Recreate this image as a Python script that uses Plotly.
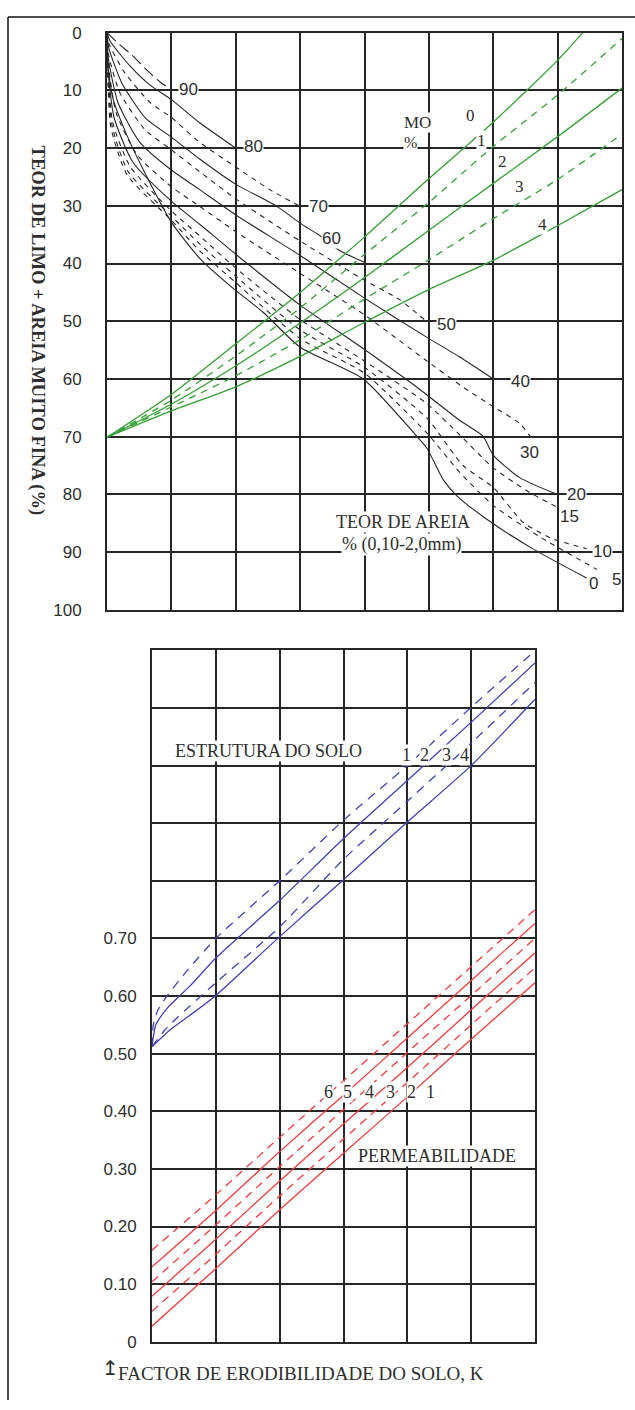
import plotly.graph_objects as go

# ------------------------------------------------------------------
# DATA
# Top nomograph: x in grid units (0-8, unlabelled), y in % (silt + very fine sand)
# ------------------------------------------------------------------
SAND_LABELS = ["90", "80", "70", "60", "50", "40", "30", "20", "15", "10", "5", "0"]

sand90_x = [0, 0.2, 0.39, 0.62, 0.82, 1.0]
sand90_y = [0, 2.1, 3.9, 6.5, 8.5, 9.9]
sand80_x = [0, 0.05, 0.36, 0.67, 1.0, 1.44, 2.0]
sand80_y = [0, 1.5, 5.8, 9.1, 11.6, 15.6, 20.0]
sand70_x = [0, 0.03, 0.28, 0.67, 1.0, 1.44, 1.99, 2.53, 3.0]
sand70_y = [0, 1.9, 7.0, 12.1, 14.7, 19.0, 23.2, 27.2, 30.1]
sand60_x = [0, 0.03, 0.23, 0.59, 1.0, 1.44, 1.99, 2.64, 3.0, 3.31, 3.62, 4.0]
sand60_y = [0, 2.7, 8.7, 14.7, 18.1, 21.9, 26.2, 30.1, 33.0, 35.2, 37.8, 39.8]
sand50_x = [0, 0.02, 0.2, 0.59, 1.0, 1.44, 1.99, 3.0, 4.0, 4.55, 4.97]
sand50_y = [0, 3.6, 10.4, 16.8, 20.3, 24.1, 28.7, 36.1, 42.9, 46.3, 50.1]
sand40_x = [0, 0.02, 0.17, 0.51, 1.0, 1.44, 1.99, 3.0, 4.0, 4.97, 5.48, 6.0]
sand40_y = [0, 4.4, 12.1, 19.0, 23.8, 27.2, 31.5, 38.6, 46.0, 52.8, 56.2, 60.0]
sand30_x = [0, 0.02, 0.14, 0.47, 1.0, 1.44, 1.99, 3.0, 4.0, 4.97, 5.53, 6.0, 6.41, 6.57]
sand30_y = [0, 5.3, 13.8, 21.2, 26.7, 30.1, 34.4, 41.7, 48.9, 56.9, 61.4, 64.8, 67.7, 69.9]
sand20_x = [0, 0.01, 0.11, 0.4, 1.0, 1.44, 1.99, 3.0, 4.0, 4.81, 5.48, 5.84, 6.0, 6.41, 6.99]
sand20_y = [0, 5.8, 14.7, 22.4, 29.2, 33.2, 38.3, 47.2, 54.9, 61.4, 67.2, 69.9, 73.2, 77.1, 80.0]
sand15_x = [0, 0.01, 0.09, 0.36, 1.0, 1.44, 1.99, 3.0, 4.0, 4.97, 5.48, 6.0, 6.57, 6.99]
sand15_y = [0, 6.2, 15.6, 23.2, 30.9, 35.2, 40.7, 49.7, 56.9, 64.3, 69.7, 75.4, 79.7, 82.2]
sand10_x = [0, 0.01, 0.08, 0.33, 1.0, 1.44, 1.99, 3.0, 4.0, 4.97, 5.53, 6.0, 6.46, 6.92, 7.45]
sand10_y = [0, 6.5, 16.2, 24.1, 31.8, 36.6, 42.1, 51.5, 58.0, 66.8, 75.0, 78.8, 84.8, 87.7, 89.4]
sand5_x = [0, 0.01, 0.06, 0.31, 1.0, 1.44, 1.99, 3.0, 4.0, 4.97, 5.48, 6.0, 6.73, 7.61]
sand5_y = [0, 6.7, 16.4, 24.6, 32.5, 37.8, 43.2, 53.0, 59.0, 69.4, 76.2, 81.9, 87.4, 93.0]
sand0_x = [0, 0.01, 0.09, 0.31, 0.62, 1.01, 1.44, 1.96, 2.42, 3.0, 3.98, 4.81, 4.97, 5.22, 5.43, 5.90, 6.61, 7.45]
sand0_y = [0, 5.3, 11.3, 17.8, 25.0, 33.0, 39.1, 44.3, 48.4, 54.5, 60.0, 69.9, 72.0, 77.4, 80.2, 84.3, 89.4, 94.5]

# Organic matter (MO %) curves
OM_LABELS = ["0", "1", "2", "3", "4"]
om0_x = [0, 1.01, 1.99, 3.0, 3.98, 4.98, 5.99, 7.0, 7.39]
om0_y = [70.1, 62.6, 54.0, 45.0, 35.6, 25.5, 15.6, 4.8, 0.0]
om_x = [0, 1.01, 1.99, 3.0, 3.98, 4.98, 5.99, 6.99, 8.0]
om1_y = [70.1, 63.6, 56.1, 47.7, 38.6, 29.6, 19.8, 10.9, 1.0]
om2_y = [70.1, 64.3, 57.8, 50.3, 42.6, 34.4, 26.2, 18.1, 9.6]
om3_y = [70.1, 64.8, 59.5, 53.2, 46.3, 39.5, 32.3, 25.5, 17.6]
om4_y = [70.1, 65.5, 61.4, 56.1, 50.3, 44.6, 39.5, 33.5, 27.2]

TOP_TICKS = [0, 10, 20, 30, 40, 50, 60, 70, 80, 90, 100]
TOP_TICK_TEXT = ["0", "10", "20", "30", "40", "50", "60", "70", "80", "90", "100"]

# Bottom nomograph: x in grid units (0-6, unlabelled), y = K factor
STRUCT_LABELS = ["1", "2", "3", "4"]
st1_x = [0, 0.02, 0.09, 0.24, 0.55, 1.0, 2.01, 2.99, 4.0, 5.02, 6.0]
st1_y = [0.512, 0.550, 0.575, 0.601, 0.644, 0.700, 0.801, 0.904, 1.000, 1.103, 1.199]
st2_x = [0, 0.06, 0.24, 0.6, 1.0, 2.01, 2.99, 4.0, 5.02, 6.0]
st2_y = [0.512, 0.550, 0.579, 0.618, 0.666, 0.767, 0.872, 0.974, 1.077, 1.178]
st3_x = [0, 0.2, 0.39, 1.0, 2.01, 2.99, 4.0, 5.02, 6.0]
st3_y = [0.512, 0.541, 0.562, 0.623, 0.721, 0.836, 0.938, 1.041, 1.144]
st4_x = [0, 0.28, 0.6, 1.0, 1.97, 2.99, 4.0, 5.02, 6.0]
st4_y = [0.512, 0.541, 0.567, 0.601, 0.700, 0.801, 0.902, 1.002, 1.115]

PERM_LABELS = ["6", "5", "4", "3", "2", "1"]
perm_x = [0, 1, 2, 3, 4, 5, 6]
perm1_y = [0.027, 0.127, 0.229, 0.327, 0.425, 0.525, 0.623]
perm2_y = [0.053, 0.152, 0.253, 0.352, 0.450, 0.550, 0.649]
perm3_y = [0.079, 0.178, 0.279, 0.378, 0.476, 0.576, 0.675]
perm4_y = [0.104, 0.203, 0.304, 0.403, 0.502, 0.601, 0.700]
perm5_y = [0.130, 0.228, 0.330, 0.428, 0.527, 0.627, 0.726]
perm6_y = [0.159, 0.255, 0.355, 0.453, 0.552, 0.651, 0.750]

BOT_TICKS = [0, 0.1, 0.2, 0.3, 0.4, 0.5, 0.6, 0.7, 0.8, 0.9, 1.0, 1.1, 1.2]
BOT_TICK_TEXT = ["0", "0.10", "0.20", "0.30", "0.40", "0.50", "0.60", "0.70", "", "", "", "", ""]

TITLE_LEFT = "TEOR DE LIMO + AREIA MUITO FINA (%)"
TITLE_SAND = ["TEOR DE AREIA", "% (0,10-2,0mm)"]
TITLE_MO = ["MO", "%"]
TITLE_STRUCT = "ESTRUTURA DO SOLO"
TITLE_PERM = "PERMEABILIDADE"
TITLE_K = "FACTOR DE ERODIBILIDADE DO SOLO, K"

# ------------------------------------------------------------------
# STYLE / LAYOUT
# ------------------------------------------------------------------
W, H = 635, 1410
INK = "#262626"
TXT = "#2e2e2e"
GREEN = "#33a033"
BLUE = "#4040b8"
RED = "#f03a3a"
SANS = "Liberation Sans, Arial, sans-serif"
SERIF = "Liberation Serif, Times New Roman, serif"

fig = go.Figure()


def add_line(x, y, color, dash, width=1.2, axes=("x", "y")):
    fig.add_trace(go.Scatter(
        x=x, y=y, mode="lines", xaxis=axes[0], yaxis=axes[1],
        line=dict(color=color, width=width, dash=dash, shape="spline", smoothing=0.6),
        hoverinfo="skip", showlegend=False))


SHORT = "5px,5px"
sand_curves = [
    (sand90_x, sand90_y, "12px,5px"), (sand80_x, sand80_y, "solid"),
    (sand70_x, sand70_y, SHORT), (sand60_x, sand60_y, "solid"),
    (sand50_x, sand50_y, SHORT), (sand40_x, sand40_y, "solid"),
    (sand30_x, sand30_y, SHORT), (sand20_x, sand20_y, "solid"),
    (sand15_x, sand15_y, SHORT), (sand10_x, sand10_y, SHORT),
    (sand5_x, sand5_y, SHORT), (sand0_x, sand0_y, "solid"),
]
for xs, ys, d in sand_curves:
    add_line(xs, ys, INK, d, 1.1)

GDASH = "7px,6px"
for xs, ys, d in [(om0_x, om0_y, "solid"), (om_x, om1_y, GDASH), (om_x, om2_y, "solid"),
                  (om_x, om3_y, GDASH), (om_x, om4_y, "solid")]:
    add_line(xs, ys, GREEN, d, 1.3)

BDASH = "9px,7px"
for xs, ys, d in [(st1_x, st1_y, BDASH), (st2_x, st2_y, "solid"),
                  (st3_x, st3_y, BDASH), (st4_x, st4_y, "solid")]:
    add_line(xs, ys, BLUE, d, 1.3, ("x2", "y2"))

RDASH = "8px,6px"
for ys, d in [(perm1_y, "solid"), (perm2_y, RDASH), (perm3_y, "solid"),
              (perm4_y, RDASH), (perm5_y, "solid"), (perm6_y, RDASH)]:
    add_line(perm_x, ys, RED, d, 1.3, ("x2", "y2"))

grid = dict(showgrid=True, gridcolor=INK, gridwidth=2, showline=True, linecolor=INK,
            linewidth=2, mirror=True, zeroline=False, ticks="", fixedrange=True)

fig.update_layout(
    width=W, height=H, margin=dict(l=0, r=0, t=0, b=0),
    paper_bgcolor="white", plot_bgcolor="white", showlegend=False,
    xaxis=dict(domain=[107 / W, 622 / W], range=[0, 8], tickvals=list(range(9)),
               showticklabels=False, anchor="y", **grid),
    yaxis=dict(domain=[1 - 609 / H, 1 - 24 / H], range=[100, 0], tickvals=TOP_TICKS,
               ticktext=TOP_TICK_TEXT, ticklabelstandoff=20, anchor="x",
               tickfont=dict(family=SANS, size=17, color=TXT), **grid),
    xaxis2=dict(domain=[152 / W, 535 / W], range=[0, 6], tickvals=list(range(7)),
                showticklabels=False, anchor="y2", **grid),
    yaxis2=dict(domain=[1 - 1351 / H, 1 - 650 / H], range=[0, 1.2], tickvals=BOT_TICKS,
                ticktext=BOT_TICK_TEXT, ticklabelstandoff=10, anchor="x2",
                tickfont=dict(family=SANS, size=17, color=TXT), **grid),
)

ann = []


def label(text, x, y, axes=("x", "y"), font=SANS, size=17, color=TXT, bg="white",
          xanchor="center", angle=0, bold=False):
    ann.append(dict(text=("<b>%s</b>" % text) if bold else text, x=x, y=y,
                    xref=axes[0], yref=axes[1], showarrow=False, xanchor=xanchor,
                    yanchor="middle", textangle=angle, bgcolor=bg, borderpad=0,
                    font=dict(family=font, size=size, color=color)))


# sand-curve end labels (top chart data coordinates)
sand_label_pos = [(1.26, 9.9), (2.27, 19.8), (3.29, 30.1), (3.48, 35.6), (5.28, 50.6),
                  (6.42, 60.5), (6.57, 72.8), (7.30, 80.0), (7.19, 83.9), (7.70, 89.9),
                  (7.91, 94.7), (7.56, 95.4)]
for t, (x, y) in zip(SAND_LABELS, sand_label_pos):
    label(t, x, y, size=17)

om_label_pos = [(5.64, 14.4), (5.82, 18.6), (6.15, 22.4), (6.41, 26.7), (6.76, 33.2)]
for t, (x, y) in zip(OM_LABELS, om_label_pos):
    label(t, x, y, font=SERIF, size=17)
label(TITLE_MO[0], 4.82, 15.6, font=SERIF, size=17)
label(TITLE_MO[1], 4.71, 19.1, font=SERIF, size=16)
label(TITLE_SAND[0], 4.60, 84.8, font=SERIF, size=18)
label(TITLE_SAND[1], 4.58, 88.7, font=SERIF, size=18)

# bottom chart labels
label(TITLE_STRUCT, 1.82, 1.026, ("x2", "y2"), font=SERIF, size=18)
for t, x in zip(STRUCT_LABELS, [3.98, 4.27, 4.61, 4.90]):
    label(t, x, 1.019, ("x2", "y2"), font=SERIF, size=18)
for t, x in zip(PERM_LABELS, [2.76, 3.07, 3.40, 3.73, 4.06, 4.36]):
    label(t, x, 0.433, ("x2", "y2"), font=SERIF, size=18)
label(TITLE_PERM, 4.47, 0.322, ("x2", "y2"), font=SERIF, size=18)

# axis titles in paper coordinates
label(TITLE_LEFT, 37 / W, 1 - 325 / H, ("paper", "paper"), font=SERIF, size=18.5,
      bg=None, angle=90, bold=True)
label("\u21a5", 110 / W, 1 - 1378 / H, ("paper", "paper"), font="DejaVu Sans", size=20, bg=None)
label(TITLE_K, 117 / W, 1 - 1383 / H, ("paper", "paper"), font=SERIF, size=19, bg=None,
      xanchor="left")

fig.update_layout(annotations=ann)

# page border (top and left edges)
fig.add_shape(type="line", xref="paper", yref="paper", x0=8 / W, x1=1, y0=1 - 8 / H,
              y1=1 - 8 / H, line=dict(color="#111", width=1.5))
fig.add_shape(type="line", xref="paper", yref="paper", x0=8 / W, x1=8 / W, y0=0,
              y1=1 - 8 / H, line=dict(color="#111", width=1.5))

fig.write_html(
    "out.html",
    config={"displayModeBar": False, "staticPlot": True},
    post_script="document.body.style.margin='0';"
                "document.documentElement.style.overflow='hidden';",
)
